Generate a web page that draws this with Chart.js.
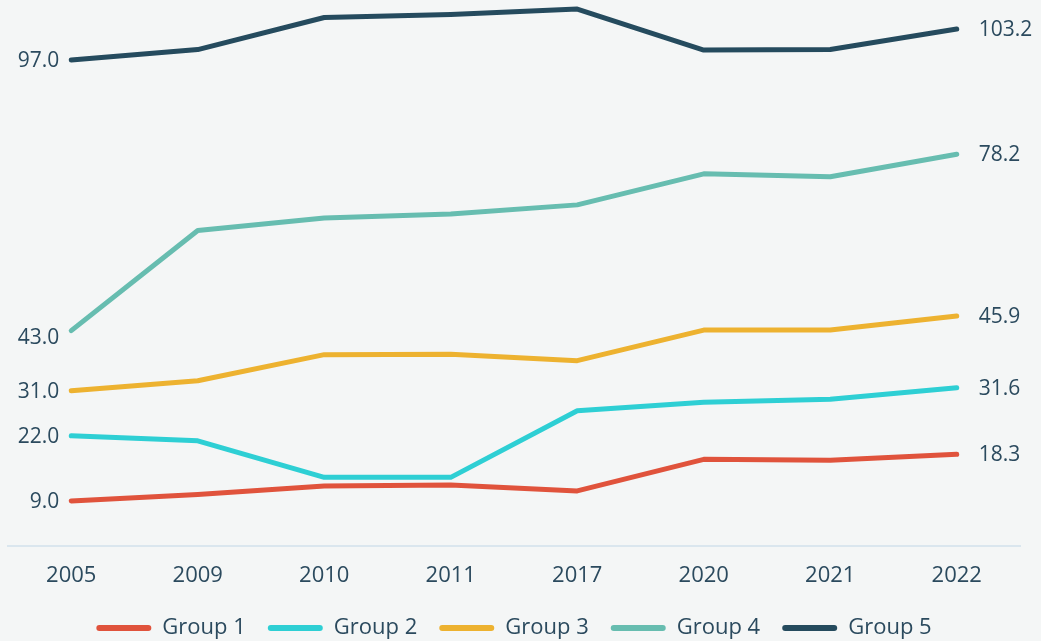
<!DOCTYPE html>
<html>
<head>
<meta charset="utf-8">
<script src="https://cdn.jsdelivr.net/npm/chart.js@4/dist/chart.umd.min.js"></script>
<style>
  html, body { margin: 0; padding: 0; background: #f4f6f6; }
  #wrap { width: 1041px; height: 641px; }
</style>
</head>
<body>
<div id="wrap"><canvas id="c" width="1041" height="641"></canvas></div>
<script>
const years = ['2005', '2009', '2010', '2011', '2017', '2020', '2021', '2022'];
const group1 = [9.0, 10.3, 12.0, 12.2, 11.0, 17.3, 17.1, 18.3];
const group2 = [22.0, 21.0, 13.7, 13.7, 27.0, 28.7, 29.3, 31.6];
const group3 = [31.0, 33.0, 38.2, 38.3, 37.0, 43.1, 43.1, 45.9];
const group4 = [43.0, 63.0, 65.5, 66.3, 68.1, 74.3, 73.7, 78.2];
const group5 = [97.0, 99.1, 105.5, 106.1, 107.2, 99.0, 99.1, 103.2];
const seriesNames = ['Group 1', 'Group 2', 'Group 3', 'Group 4', 'Group 5'];

const colors = ['#e0533c', '#2ecfd4', '#edb230', '#67bdb0', '#254b5e'];
const textColor = '#2b4a5e';
const FONT = "'Open Sans', sans-serif";

const allSeries = [group1, group2, group3, group4, group5];
const datasets = allSeries.map((d, i) => ({
  label: seriesNames[i],
  data: d,
  borderColor: colors[i],
  backgroundColor: colors[i],
  borderWidth: 5,
  borderCapStyle: 'round',
  borderJoinStyle: 'round',
  pointRadius: 0,
  pointHoverRadius: 0,
  tension: 0,
  fill: false
}));

const endLabels = {
  id: 'endLabels',
  afterDatasetsDraw(chart) {
    const ctx = chart.ctx;
    ctx.save();
    ctx.font = "21px " + FONT;
    ctx.fillStyle = textColor;
    ctx.textBaseline = 'middle';
    chart.data.datasets.forEach((ds, i) => {
      const meta = chart.getDatasetMeta(i);
      const first = meta.data[0];
      const last = meta.data[meta.data.length - 1];
      const dyFirst = (i === 3) ? 7 : 1;
      ctx.textAlign = 'right';
      ctx.fillText(ds.data[0].toFixed(1), first.x - 12, first.y + dyFirst);
      ctx.textAlign = 'left';
      ctx.fillText(ds.data[ds.data.length - 1].toFixed(1), last.x + 22, last.y + 1);
    });
    ctx.restore();
  }
};

new Chart(document.getElementById('c'), {
  type: 'line',
  data: { labels: years, datasets },
  options: {
    responsive: false,
    animation: false,
    layout: { padding: { left: 8, right: 21, top: 5, bottom: -8 } },
    plugins: {
      tooltip: { enabled: false },
      legend: {
        position: 'bottom',
        labels: {
          boxWidth: 55,
          boxHeight: 6,
          useBorderRadius: true,
          borderRadius: 3,
          padding: 22,
          color: textColor,
          font: { family: FONT, size: 22 },
          generateLabels(chart) {
            return Chart.defaults.plugins.legend.labels.generateLabels(chart).map(l => Object.assign(l, { lineWidth: 0 }));
          }
        }
      }
    },
    scales: {
      x: {
        offset: true,
        grid: { display: false, drawTicks: false },
        border: { display: true, color: '#dae6ee', width: 2 },
        ticks: { color: textColor, font: { family: FONT, size: 22 }, padding: 17, maxRotation: 0 },
        afterFit(scale) { scale.height = 49; }
      },
      y: {
        display: false,
        min: 0,
        max: 108
      }
    }
  },
  plugins: [endLabels]
});
</script>
</body>
</html>
